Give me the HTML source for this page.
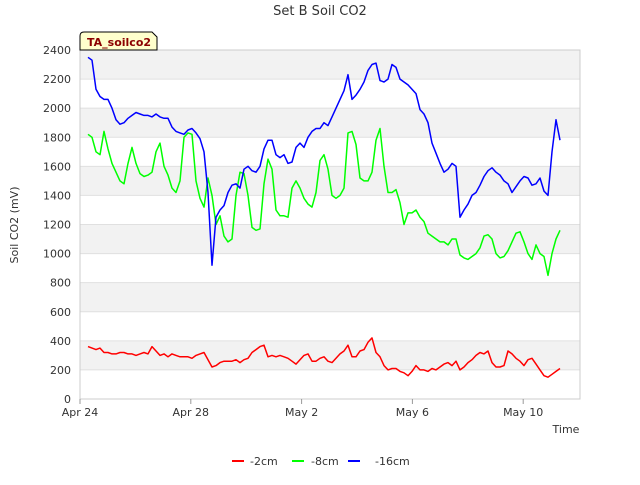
<!DOCTYPE html>
<html><head><meta charset="utf-8"><style>
body{margin:0;background:#fff;font-family:"Liberation Sans","DejaVu Sans",sans-serif}
svg text{font-family:"DejaVu Sans","Liberation Sans",sans-serif}
</style></head><body>
<svg id="chart" width="640" height="480" xmlns="http://www.w3.org/2000/svg">
<rect width="640" height="480" fill="#fff"/>
<g id="bands"></g>
<rect x="80" y="50" width="500" height="349" fill="none" stroke="#ccc"/>
<g id="axes"></g>
<g id="series"></g>
<text x="320" y="15" text-anchor="middle" font-size="13" fill="#333">Set B Soil CO2</text>
<text transform="translate(18,225) rotate(-90)" text-anchor="middle" font-size="11" fill="#333">Soil CO2 (mV)</text>
<text x="566" y="433" text-anchor="middle" font-size="11" fill="#333">Time</text>
<g>
<path d="M80,50 L80,36 Q80,32 84,32 L152,32 L157,37 L157,50 Z" fill="#ffffcc" stroke="#000"/>
<text x="87" y="46" font-size="11" font-weight="bold" fill="#8b0000">TA_soilco2</text>
</g>
<g>
<g><line x1="232" y1="461" x2="244" y2="461" stroke="#ff0000" stroke-width="2"/><text x="250" y="465" font-size="11" fill="#333">-2cm</text></g>
<g><line x1="292" y1="461" x2="304" y2="461" stroke="#00ff00" stroke-width="2"/><text x="311" y="465" font-size="11" fill="#333">-8cm</text></g>
<g><line x1="348" y1="461" x2="360" y2="461" stroke="#0000ff" stroke-width="2"/><text x="375" y="465" font-size="11" fill="#333">-16cm</text></g>
</g>
</svg>
<script>
const yTicks=[0,200,400,600,800,1000,1200,1400,1600,1800,2000,2200,2400];
const xTickDays=[0,4,8,12,16];
const xTickLabels=["Apr 24","Apr 28","May 2","May 6","May 10"];
const startDay=0.29, stepDay=0.1444;
const red=[360,350,340,350,320,320,310,310,320,320,310,310,300,310,320,310,360,330,300,310,290,310,300,290,290,290,280,300,310,320,270,220,230,250,260,260,260,270,250,270,280,320,340,360,370,290,300,290,300,290,280,260,240,270,300,310,260,260,280,290,260,250,280,310,330,370,290,290,330,340,390,420,320,290,230,200,210,210,190,180,160,190,230,200,200,190,210,200,220,240,250,230,260,200,220,250,270,300,320,310,330,250,220,220,230,330,310,280,260,230,270,280,240,200,160,150,170,190,210];
const green=[1820,1800,1700,1680,1840,1720,1620,1560,1500,1480,1620,1730,1620,1550,1530,1540,1560,1700,1760,1600,1540,1450,1420,1500,1800,1830,1820,1500,1380,1320,1520,1400,1200,1260,1120,1080,1100,1400,1560,1550,1400,1180,1160,1170,1480,1650,1580,1300,1260,1260,1250,1450,1500,1450,1380,1340,1320,1420,1640,1680,1580,1400,1380,1400,1450,1830,1840,1750,1520,1500,1500,1560,1780,1860,1600,1420,1420,1440,1350,1200,1280,1280,1300,1250,1220,1140,1120,1100,1080,1080,1060,1100,1100,990,970,960,980,1000,1040,1120,1130,1100,1000,970,980,1020,1080,1140,1150,1080,1000,960,1060,1000,980,850,1000,1100,1160];
const blue=[2350,2330,2130,2080,2060,2060,2000,1920,1890,1900,1930,1950,1970,1960,1950,1950,1940,1960,1940,1930,1930,1870,1840,1830,1820,1850,1860,1830,1790,1700,1420,920,1250,1300,1330,1420,1470,1480,1450,1580,1600,1570,1560,1600,1720,1780,1780,1680,1660,1680,1620,1630,1730,1760,1730,1800,1840,1860,1860,1900,1880,1940,2000,2060,2120,2230,2060,2090,2130,2180,2260,2300,2310,2190,2180,2200,2300,2280,2200,2180,2160,2130,2100,1990,1960,1900,1760,1690,1620,1560,1580,1620,1600,1250,1300,1340,1400,1420,1470,1530,1570,1590,1560,1540,1500,1480,1420,1460,1500,1530,1520,1470,1480,1520,1430,1400,1700,1920,1780];
const NS="http://www.w3.org/2000/svg";
const X=d=>80+d*27.7, Y=v=>399-v*(349/2400);
const bands=document.getElementById('bands'),axes=document.getElementById('axes'),ser=document.getElementById('series');
function mk(tag,at,p){const e=document.createElementNS(NS,tag);for(const k in at)e.setAttribute(k,at[k]);p.appendChild(e);return e;}
for(let i=0;i<yTicks.length-1;i++){
  if(i%2===1){const r=mk('rect',{x:80,y:Y(yTicks[i+1]),width:500,height:Y(yTicks[i])-Y(yTicks[i+1]),fill:'#f2f2f2'},bands);
  
  }
}
yTicks.forEach(v=>{
  const l=mk('line',{x1:80,x2:580,y1:Y(v),y2:Y(v),stroke:'#e0e0e0'},bands);
  
  
  const t=mk('text',{x:71,y:Y(v)+4,'text-anchor':'end','font-size':11,fill:'#333'},axes);t.textContent=v;
  
  
});
xTickDays.forEach((d,i)=>{
  mk('line',{x1:X(d),x2:X(d),y1:399,y2:404,stroke:'#999'},axes);
  const t=mk('text',{x:X(d),y:416,'text-anchor':'middle','font-size':11,fill:'#333'},axes);t.textContent=xTickLabels[i];
  
  
});
[[red,'#ff0000','series-2cm'],[green,'#00ff00','series-8cm'],[blue,'#0000ff','series-16cm']].forEach(([arr,c,n])=>{
  const pts=arr.map((v,i)=>X(startDay+i*stepDay).toFixed(1)+','+Y(v).toFixed(1)).join(' ');
  const p=mk('polyline',{points:pts,fill:'none',stroke:c,'stroke-width':1.5,'stroke-linejoin':'round'},ser);
  
  
});
</script>
</body></html>
